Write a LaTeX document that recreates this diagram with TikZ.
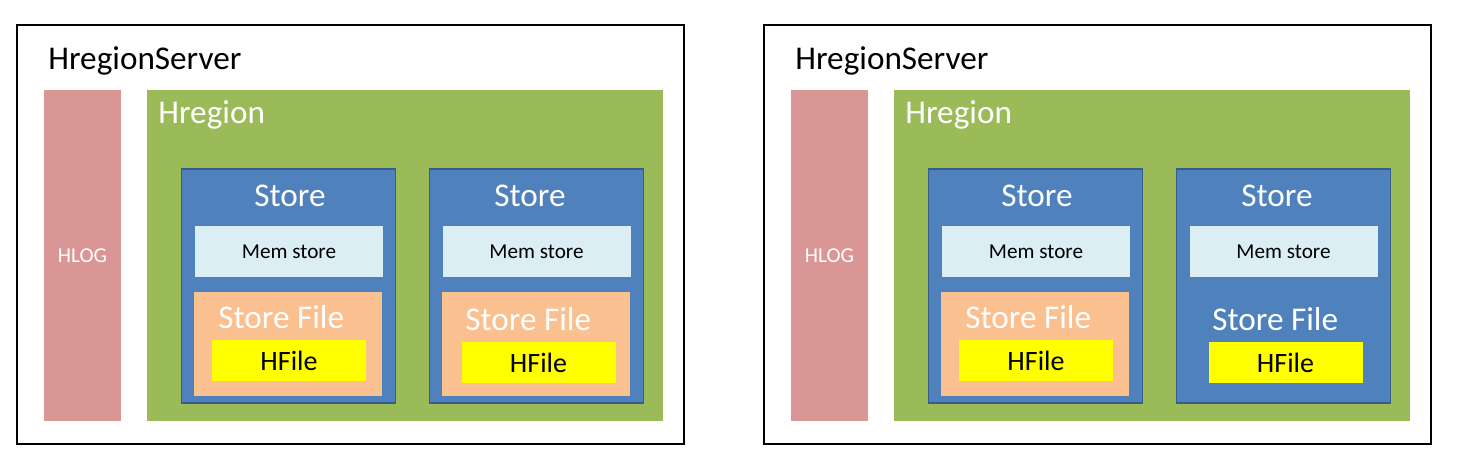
\documentclass[tikz,border=0pt]{standalone}
\usepackage{fontspec}
\setmainfont{Carlito}
\usepackage{tikz}
\usetikzlibrary{positioning}
\definecolor{logpink}{RGB}{217, 150, 148}
\definecolor{regiongreen}{RGB}{155, 187, 89}
\definecolor{storeblue}{RGB}{79, 129, 189}
\definecolor{storeedge}{RGB}{56, 93, 138}
\definecolor{memblue}{RGB}{219, 238, 244}
\definecolor{filepeach}{RGB}{250, 192, 144}
\definecolor{hfileyellow}{RGB}{255, 255, 0}

\begin{document}
\begin{tikzpicture}[
    x=0.5pt, y=-0.5pt,
    serverbox/.style={rectangle, draw=black, line width=1pt, fill=white, inner sep=0pt, minimum width=333.5pt, minimum height=209.5pt},
    logbox/.style={rectangle, fill=logpink, inner sep=0pt, minimum width=38.5pt, minimum height=165.5pt, text=white, font=\fontsize{10.6}{12}\selectfont},
    regionbox/.style={rectangle, fill=regiongreen, inner sep=0pt, minimum width=258pt, minimum height=165.5pt},
    storebox/.style={rectangle, draw=storeedge, line width=0.7pt, fill=storeblue, inner sep=0pt, minimum width=107pt, minimum height=117pt},
    membox/.style={rectangle, fill=memblue, inner sep=0pt, minimum width=94pt, minimum height=25.5pt, font=\fontsize{10.6}{12}\selectfont},
    filebox/.style={rectangle, fill=filepeach, inner sep=0pt, minimum width=94pt, minimum height=52pt},
    hfilebox/.style={rectangle, fill=hfileyellow, inner sep=0pt, minimum width=77pt, minimum height=20.5pt, font=\fontsize{14}{16}\selectfont},
    bigtext/.style={inner sep=0pt, font=\fontsize{16.6}{20}\selectfont},
    whitetext/.style={bigtext, text=white}
]
    \useasboundingbox (0, 0) rectangle (1457, 463);

    % Left region server
    \node[serverbox] (srvA) at (350.5, 234.5) {};
    \node[bigtext, anchor=base west] (srvAtitle) at (48, 69) {HregionServer};
    \node[logbox] (logA) at (82.5, 255.5) {HLOG};
    \node[regionbox] (regA) at (405, 255.5) {};
    \node[whitetext, anchor=base west] (regAtitle) at (158, 123) {Hregion};

    % Left region, first store
    \node[storebox] (stA1) at (288.5, 286) {};
    \node[whitetext, anchor=base] (stA1title) at (290, 206) {Store};
    \node[membox] (memA1) at (289, 251.5) {Mem store};
    \node[filebox] (fileA1) at (288, 344) {};
    \node[whitetext, anchor=base west] (fileA1title) at (218, 328) {Store File};
    \node[hfilebox] (hfA1) at (289, 360.5) {HFile};

    % Left region, second store
    \node[storebox] (stA2) at (536.5, 286) {};
    \node[whitetext, anchor=base] (stA2title) at (530, 206) {Store};
    \node[membox] (memA2) at (536.5, 251.5) {Mem store};
    \node[filebox] (fileA2) at (536, 344) {};
    \node[whitetext, anchor=base west] (fileA2title) at (465, 330) {Store File};
    \node[hfilebox] (hfA2) at (538.5, 362.5) {HFile};

    % Right region server
    \node[serverbox] (srvB) at (1097.5, 234.5) {};
    \node[bigtext, anchor=base west] (srvBtitle) at (795, 69) {HregionServer};
    \node[logbox] (logB) at (829.5, 255.5) {HLOG};
    \node[regionbox] (regB) at (1152, 255.5) {};
    \node[whitetext, anchor=base west] (regBtitle) at (905, 123) {Hregion};

    % Right region, first store
    \node[storebox] (stB1) at (1035.5, 286) {};
    \node[whitetext, anchor=base] (stB1title) at (1037, 206) {Store};
    \node[membox] (memB1) at (1036, 251.5) {Mem store};
    \node[filebox] (fileB1) at (1035, 344) {};
    \node[whitetext, anchor=base west] (fileB1title) at (965, 328) {Store File};
    \node[hfilebox] (hfB1) at (1036, 360.5) {HFile};

    % Right region, second store (no file box)
    \node[storebox] (stB2) at (1283.5, 286) {};
    \node[whitetext, anchor=base] (stB2title) at (1277, 206) {Store};
    \node[membox] (memB2) at (1283.5, 251.5) {Mem store};
    \node[whitetext, anchor=base west] (fileB2title) at (1212, 330) {Store File};
    \node[hfilebox] (hfB2) at (1285.5, 362.5) {HFile};
\end{tikzpicture}
\end{document}
